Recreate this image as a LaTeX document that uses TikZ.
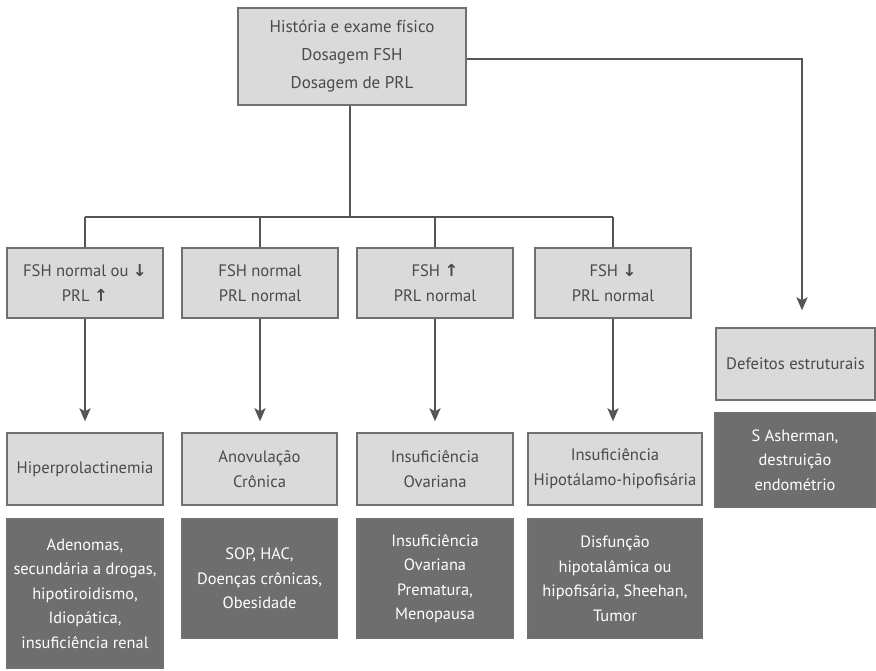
\documentclass[tikz,border=0pt]{standalone}
\usepackage{fontspec}
\setmainfont{PT Sans}
\newfontfamily\arrowfont{DejaVu Sans}
\newcommand{\dnarr}{{\arrowfont\bfseries ↓}}
\newcommand{\uparr}{{\arrowfont\bfseries ↑}}
\usetikzlibrary{arrows.meta,calc}
\definecolor{lightbox}{HTML}{DADADA}
\definecolor{darkbox}{HTML}{6E6E6E}
\definecolor{boxline}{HTML}{707070}
\definecolor{linecol}{HTML}{555555}
\definecolor{txt}{HTML}{4A4A4A}
\begin{document}
\begin{tikzpicture}[x=1pt,y=-1pt,
  lbox/.style={draw=boxline,line width=1.3pt,fill=lightbox,text=txt,align=center,inner sep=0pt,font=\fontsize{16.6}{25}\selectfont},
  dbox/.style={draw=boxline,line width=1.3pt,fill=darkbox,text=white,align=center,inner sep=0pt,font=\fontsize{16.4}{24.5}\selectfont},
  conn/.style={draw=linecol,line width=2.6pt},
  arr/.style={conn,-{Stealth[length=13pt,width=11pt,inset=3pt]}}
]
\useasboundingbox (0,0) rectangle (876,671);
\fill[white] (0,0) rectangle (876,671);
% top
\node[lbox,minimum width=228pt,minimum height=97pt,font=\fontsize{17}{28}\selectfont] (top) at (352,56.5) {História e exame físico\\Dosagem FSH\\Dosagem de PRL};
% row 1
\node[lbox,minimum width=156pt,minimum height=70pt] (a1) at (85,283) {FSH normal ou \dnarr\\PRL \uparr};
\node[lbox,minimum width=156pt,minimum height=70pt] (b1) at (260,283) {FSH normal\\PRL normal};
\node[lbox,minimum width=156pt,minimum height=70pt] (c1) at (435,283) {FSH \uparr\\PRL normal};
\node[lbox,minimum width=156pt,minimum height=70pt] (d1) at (613,283) {FSH \dnarr\\PRL normal};
% row 2
\node[lbox,minimum width=156pt,minimum height=72pt] (a2) at (85,469) {Hiperprolactinemia};
\node[lbox,minimum width=155pt,minimum height=72pt] (b2) at (259.5,469) {Anovulação\\Crônica};
\node[lbox,minimum width=156pt,minimum height=72pt] (c2) at (435,469) {Insuficiência\\Ovariana};
\node[lbox,minimum width=174pt,minimum height=72pt] (d2) at (615,469) {Insuficiência\\Hipotálamo-hipofisária};
% row 3
\node[dbox,minimum width=156pt,minimum height=149pt] (a3) at (85,593.5) {Adenomas,\\secundária a drogas,\\hipotiroidismo,\\Idiopática,\\insuficiência renal};
\node[dbox,minimum width=155pt,minimum height=119pt] (b3) at (259.5,578.5) {SOP, HAC,\\Doenças crônicas,\\Obesidade};
\node[dbox,minimum width=156pt,minimum height=119pt] (c3) at (435,578.5) {Insuficiência\\Ovariana\\Prematura,\\Menopausa};
\node[dbox,minimum width=174pt,minimum height=119pt] (d3) at (615,578.5) {Disfunção\\hipotalâmica ou\\hipofisária, Sheehan,\\Tumor};
% right
\node[lbox,minimum width=159pt,minimum height=72pt] (e2) at (795.5,364) {Defeitos estruturais};
\node[dbox,minimum width=160pt,minimum height=94pt] (e3) at (795,460) {S Asherman,\\destruição\\endométrio};
% connectors
\coordinate (bar) at (350,217);
\coordinate (rt) at (802,59);
\draw[conn] (top.south -| bar) -- (bar);
\draw[conn] (a1.north |- bar) -- (d1.north |- bar);
\draw[conn] (a1.north |- bar) -- (a1.north);
\draw[conn] (b1.north |- bar) -- (b1.north);
\draw[conn] (c1.north |- bar) -- (c1.north);
\draw[conn] (d1.north |- bar) -- (d1.north);
\draw[arr,shorten >=11pt] (a1.south) -- (a2.north);
\draw[arr,shorten >=11pt] (b1.south) -- (b1.south |- b2.north);
\draw[arr,shorten >=11pt] (c1.south) -- (c2.north);
\draw[arr,shorten >=11pt] (d1.south) -- (d1.south |- d2.north);
\draw[arr,shorten >=17pt] (top.east |- rt) -- (rt) -- (rt |- e2.north);
\end{tikzpicture}
\end{document}
